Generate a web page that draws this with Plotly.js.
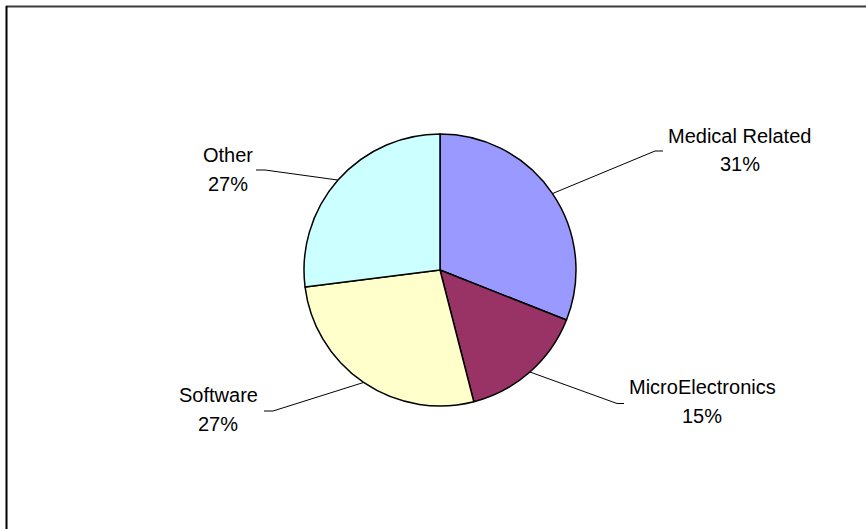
<!DOCTYPE html>
<html>
<head>
<meta charset="utf-8">
<script src="https://cdn.plot.ly/plotly-3.0.1.min.js"></script>
<style>
  html, body { margin: 0; padding: 0; background: #fff; }
  #chart { width: 866px; height: 529px; }
</style>
</head>
<body>
<div id="chart"></div>
<script>
// ---- data ----
const categories = ["Medical Related", "MicroElectronics", "Software", "Other"];
const shares = [31, 15, 27, 27];
const sliceColors = ["#9999FF", "#993366", "#FFFFCC", "#CCFFFF"];

// ---- layout constants (pixels) ----
const W = 866, H = 529;
const cx = 440, cy = 270, R = 136;
// label block centre x, first-line baseline, elbow and end of leader
const labelLayout = [
  { x: 739.5, base: 142.5, elbow: [655, 151], end: [663, 151] },
  { x: 702,   base: 393.5, elbow: [617, 403.5], end: [624, 403.5] },
  { x: 218,   base: 401.5, elbow: [273, 411], end: [264, 411] },
  { x: 228,   base: 161.5, elbow: [265, 170], end: [256, 170] }
];
const lineGap = 29;
const fontFam = "Liberation Sans, Arial, Helvetica, sans-serif";

const px = x => x / W;
const py = y => 1 - y / H;

const total = shares.reduce((a, b) => a + b, 0);
const annotations = [];
const shapes = [];
let cum = 0;
shares.forEach((v, i) => {
  const mid = (cum + v / 2) / total * 2 * Math.PI;
  cum += v;
  const ex = cx + R * Math.sin(mid), ey = cy - R * Math.cos(mid);
  const L = labelLayout[i];
  shapes.push({
    type: "path", xref: "paper", yref: "paper",
    path: `M ${px(ex)} ${py(ey)} L ${px(L.elbow[0])} ${py(L.elbow[1])} L ${px(L.end[0])} ${py(L.end[1])}`,
    line: { color: "#000", width: 1 }
  });
  const pct = Math.round(v / total * 100) + "%";
  [categories[i], pct].forEach((t, k) => {
    annotations.push({
      xref: "paper", yref: "paper",
      x: px(L.x), y: py(L.base + k * lineGap - 7),
      xanchor: "center", yanchor: "middle",
      text: t, showarrow: false,
      font: { family: fontFam, size: 20, color: "#000" }
    });
  });
});

// frame (top and left edges visible)
shapes.push({ type: "line", xref: "paper", yref: "paper",
  x0: px(6), y0: py(6.5), x1: 1, y1: py(6.5), line: { color: "#3c3c3c", width: 2 } });
shapes.push({ type: "line", xref: "paper", yref: "paper",
  x0: px(6.5), y0: py(6), x1: px(6.5), y1: 0, line: { color: "#000", width: 2 } });

const trace = {
  type: "pie",
  labels: categories,
  values: shares,
  sort: false,
  direction: "clockwise",
  rotation: 0,
  textinfo: "none",
  textposition: "none",
  hoverinfo: "label+percent",
  marker: { colors: sliceColors, line: { color: "#000", width: 1.5 } },
  domain: {
    x: [px(cx - R), px(cx + R)],
    y: [py(cy + R), py(cy - R)]
  },
  showlegend: false
};

const layout = {
  width: W, height: H,
  margin: { l: 0, r: 0, t: 0, b: 0 },
  paper_bgcolor: "#fff",
  showlegend: false,
  annotations, shapes
};

Plotly.newPlot("chart", [trace], layout, { displayModeBar: false, staticPlot: true });
</script>
</body>
</html>
